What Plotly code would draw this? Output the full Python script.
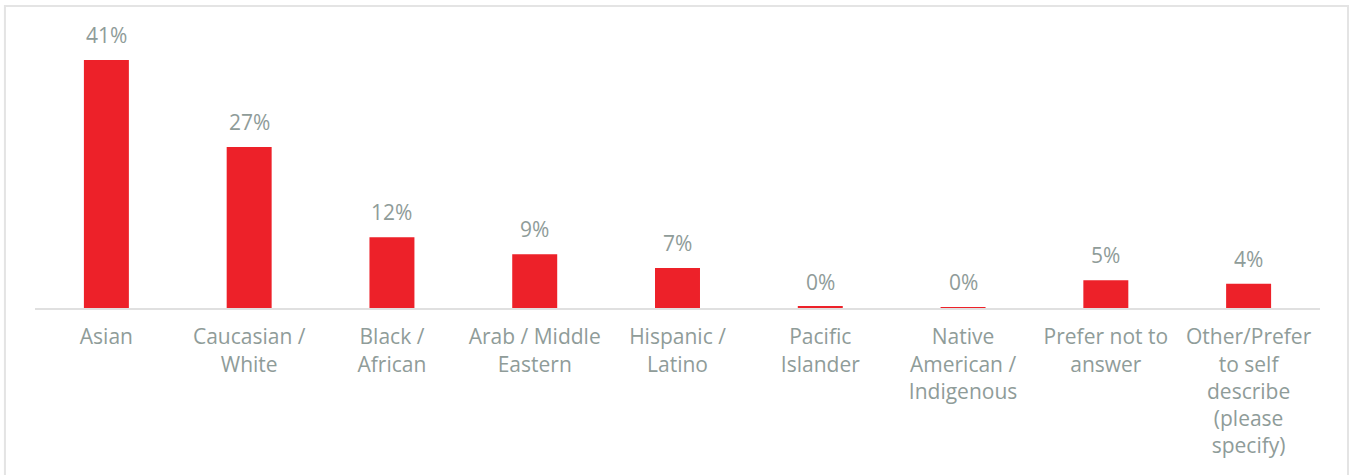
import plotly.graph_objects as go

categories = [
    "Asian",
    "Caucasian /<br>White",
    "Black /<br>African",
    "Arab / Middle<br>Eastern",
    "Hispanic /<br>Latino",
    "Pacific<br>Islander",
    "Native<br>American /<br>Indigenous",
    "Prefer not to<br>answer",
    "Other/Prefer<br>to self<br>describe<br>(please<br>specify)",
]
shares = [41.0, 26.6, 11.7, 8.9, 6.6, 0.2, 0.15, 4.6, 4.0]
share_labels = [f"{round(v)}%" for v in shares]

BAR_RED = "#ED2129"
TEXT_GRAY = "#8F9C99"
FONT = "Open Sans"

fig = go.Figure(
    go.Bar(
        x=categories,
        y=shares,
        marker=dict(color=BAR_RED, line=dict(width=0)),
        width=0.315,
        hoverinfo="skip",
    )
)

for cat, val, lab in zip(categories, shares, share_labels):
    fig.add_annotation(
        x=cat, y=val, text=lab, showarrow=False,
        yanchor="bottom", yshift=9,
        font=dict(family=FONT, size=21, color=TEXT_GRAY),
    )

# light frame around the whole chart
fig.add_shape(
    type="rect", xref="paper", yref="paper",
    x0=-0.0234, x1=1.0218, y0=-0.59, y1=1.0486,
    line=dict(color="#E4E4E4", width=2), fillcolor="rgba(0,0,0,0)",
    layer="below",
)

fig.update_layout(
    width=1351, height=475,
    margin=dict(l=35, r=31, t=20, b=167),
    paper_bgcolor="white", plot_bgcolor="white",
    showlegend=False,
    xaxis=dict(
        showline=True, linecolor="#E0E0E0", linewidth=2,
        ticks="outside", ticklen=9, tickcolor="rgba(0,0,0,0)",
        tickfont=dict(family=FONT, size=21, color=TEXT_GRAY),
        tickangle=0, showgrid=False, zeroline=False,
        fixedrange=True,
    ),
    yaxis=dict(
        range=[0, 47.6], visible=False, showgrid=False, zeroline=False,
        fixedrange=True,
    ),
)

fig.write_html("out.html")
